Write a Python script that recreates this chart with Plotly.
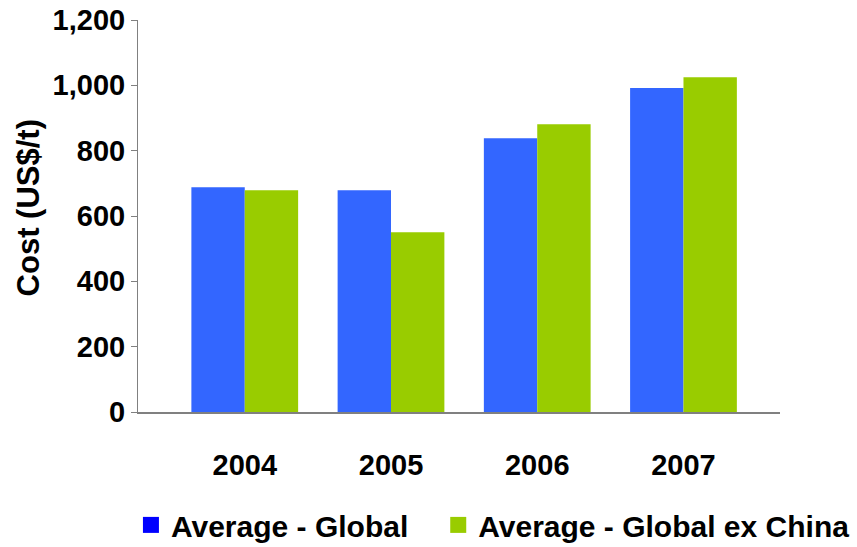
import plotly.graph_objects as go

years = ["2004", "2005", "2006", "2007"]
global_avg = [688, 679, 838, 992]
global_ex_china = [679, 550, 881, 1025]
series_names = ["Average - Global", "Average - Global ex China"]
bar_colors = ["#3366FF", "#99CC00"]
legend_colors = ["#0000FF", "#99CC00"]
y_ticks = [0, 200, 400, 600, 800, 1000, 1200]

FONT = "Liberation Sans, Arial, sans-serif"
PAD = "\u00a0\u00a0\u00a0"

fig = go.Figure()
for name, vals, col in zip(series_names, [global_avg, global_ex_china], bar_colors):
    fig.add_trace(go.Bar(x=years, y=vals, name=name, marker=dict(color=col, line=dict(width=0)),
                         showlegend=False))
for i, (name, col) in enumerate(zip(series_names, legend_colors)):
    label = name + (PAD if i == 0 else "")
    fig.add_trace(go.Scatter(x=[None], y=[None], mode="markers", name=label,
                             marker=dict(symbol="square", size=17, color=col)))

fig.update_layout(
    width=857, height=547,
    margin=dict(l=138, r=77, t=20, b=135, autoexpand=False),
    paper_bgcolor="white", plot_bgcolor="white",
    barmode="group", bargap=0.27, bargroupgap=0,
    font=dict(family=FONT, size=29, color="black", weight="bold"),
    legend=dict(orientation="h", x=-0.011, xanchor="left", y=-0.288, yanchor="middle",
                font=dict(size=30, weight="bold"), itemwidth=30, bgcolor="rgba(0,0,0,0)"),
    annotations=[dict(text="Cost (US$/t)", textangle=-90, xref="paper", yref="paper",
                      x=-0.171, y=0.52, xanchor="center", yanchor="middle",
                      showarrow=False, font=dict(size=31, weight="bold"))],
)
fig.update_xaxes(type="category", range=[-0.73, 3.66], showline=True, linecolor="#808080",
                 linewidth=1.5, ticks="", showgrid=False, zeroline=False, automargin=False,
                 ticklabelstandoff=26, tickfont=dict(size=29, weight="bold"))
fig.update_yaxes(range=[0, 1200], tickvals=y_ticks, tickformat=",d", showline=True,
                 linecolor="#808080", linewidth=1, ticks="outside", ticklen=6,
                 tickcolor="#808080", showgrid=False, zeroline=False, automargin=False,
                 tickfont=dict(size=29, weight="bold"))

fig.write_html("out.html")
